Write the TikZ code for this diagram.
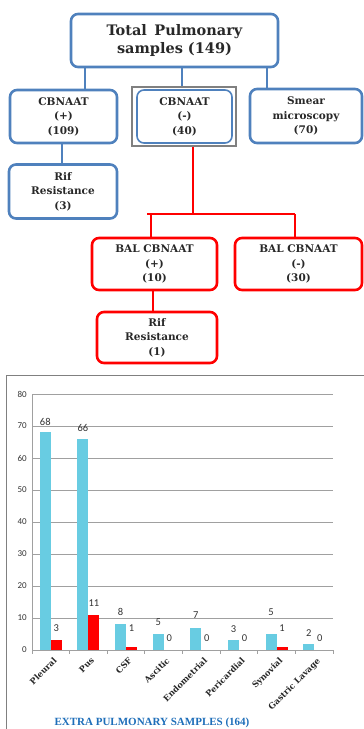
\documentclass[tikz,border=0pt]{standalone}
\usepackage{fontspec}
\setmainfont{Liberation Serif}
\newfontfamily\chartfont{Carlito}
\newfontfamily\boxfont{DejaVu Serif}
\definecolor{boxblue}{RGB}{79,129,189}
\definecolor{barcyan}{RGB}{104,204,226}
\definecolor{barred}{RGB}{255,0,0}
\definecolor{titleblue}{RGB}{30,110,185}
\definecolor{gridgray}{RGB}{160,160,160}
\definecolor{txt}{RGB}{40,40,40}
\begin{document}
\begin{tikzpicture}[x=1pt,y=-1pt,
  bluebox/.style={draw=boxblue,line width=2.6pt,rounded corners=7pt,fill=white,text=txt,font=\boxfont\bfseries\fontsize{10.5}{14.5}\selectfont,align=center,inner sep=0pt},
  redbox/.style={draw=red,line width=2.6pt,rounded corners=7pt,fill=white,text=txt,font=\boxfont\bfseries\fontsize{10.5}{14.5}\selectfont,align=center,inner sep=0pt},
  blueline/.style={draw=boxblue,line width=2.6pt},
  redline/.style={draw=red,line width=2.6pt},
  ticklab/.style={font=\chartfont\fontsize{9}{10}\selectfont,text=black!80,anchor=east,inner sep=1pt},
  barlab/.style={font=\chartfont\fontsize{10.5}{12}\selectfont,text=black!80,inner sep=0pt},
  catlab/.style={font=\boxfont\bfseries\fontsize{8.3}{10}\selectfont,rotate=45,anchor=north east,inner sep=0.5pt,text=black!85}]
\useasboundingbox (0,0) rectangle (364,729);
% ---------- flowchart ----------
\node[bluebox,minimum width=207pt,minimum height=53pt,font=\boxfont\bfseries\fontsize{14.5}{18}\selectfont] (top) at (174.5,40.5) {Total\ \,Pulmonary\\samples (149)};
\node[bluebox,minimum width=107pt,minimum height=53pt] (cbp) at (63.5,116.5) {CBNAAT\\(+)\\(109)};
\node[draw=gray,line width=1.5pt,minimum width=104pt,minimum height=59pt,inner sep=0pt] (cbnframe) at (184,116.5) {};
\node[bluebox,line width=1.6pt,minimum width=95pt,minimum height=53pt] (cbn) at (184.5,116.5) {CBNAAT\\(-)\\(40)};
\node[bluebox,minimum width=112pt,minimum height=54pt] (smear) at (306,116) {Smear\\microscopy\\(70)};
\node[bluebox,minimum width=108pt,minimum height=54pt] (rif3) at (63,191.5) {Rif\\Resistance\\(3)};
\node[redbox,minimum width=125pt,minimum height=52pt] (balp) at (154.5,264) {BAL CBNAAT\\(+)\\(10)};
\node[redbox,minimum width=127pt,minimum height=52pt] (baln) at (298.5,264) {BAL CBNAAT\\(-)\\(30)};
\node[redbox,minimum width=120pt,minimum height=51pt] (rif1) at (157,337.5) {Rif\\Resistance\\(1)};
% connectors
\draw[blueline] (top.south -| 85,0) -- (cbp.north -| 85,0);
\draw[blueline] (top.south -| 182,0) -- (cbnframe.north -| 182,0);
\draw[blueline] (top.south -| 267,0) -- (smear.north -| 267,0);
\draw[blueline] (cbp.south -| 62,0) -- (rif3.north -| 62,0);
\coordinate (split) at (193,214);
\draw[redline] (cbnframe.south -| 193,0) -- (split);
\draw[redline] (147,214) -- (295,214);
\draw[redline] (151,214) -- (balp.north -| 151,0);
\draw[redline] (295,214) -- (baln.north -| 295,0);
\draw[redline] (balp.south -| 153,0) -- (rif1.north -| 153,0);
% ---------- chart ----------
\draw[gray,line width=1pt] (6,375) -- (6,740);
\draw[gray,line width=1pt] (6,375) -- (370,375);
\foreach \v in {0,10,...,80}{
  \draw[gridgray,line width=0.9pt] (32,650-3.2*\v) -- (333,650-3.2*\v);
  \node[ticklab] at (28,650-3.2*\v) {\v};
}
\draw[gridgray,line width=0.9pt] (32,394) -- (32,654);
\foreach \i in {0,...,8}{
  \draw[gridgray,line width=0.9pt] (32+37.625*\i,650) -- (32+37.625*\i,654);
}
\foreach \i/\c/\r/\cy/\ry/\name in {
 0/68/3/422/628/Pleural,
 1/66/11/428/603/Pus,
 2/8/1/612/628/CSF,
 3/5/0/622/638/Ascitic,
 4/7/0/615/638/Endometrial,
 5/3/0/629/638/Pericardial,
 6/5/1/612/628/Synovial,
 7/2/0/633/638/Gastric Lavage}{
  \pgfmathsetmacro{\cx}{32+37.625*\i+18.8}
  \fill[barcyan] (\cx-11,650) rectangle (\cx,650-3.2*\c);
  \ifnum\r>0 \fill[barred] (\cx,650) rectangle (\cx+11,650-3.2*\r);\fi
  \node[barlab] at (\cx-5.5,\cy) {\c};
  \node[barlab] at (\cx+5.5,\ry) {\r};
  \node[catlab] at (\cx+2,656) {\name};
}
\node[font=\bfseries\fontsize{11}{13}\selectfont,text=titleblue] (title) at (152,723) {EXTRA PULMONARY SAMPLES (164)};
\end{tikzpicture}
\end{document}
